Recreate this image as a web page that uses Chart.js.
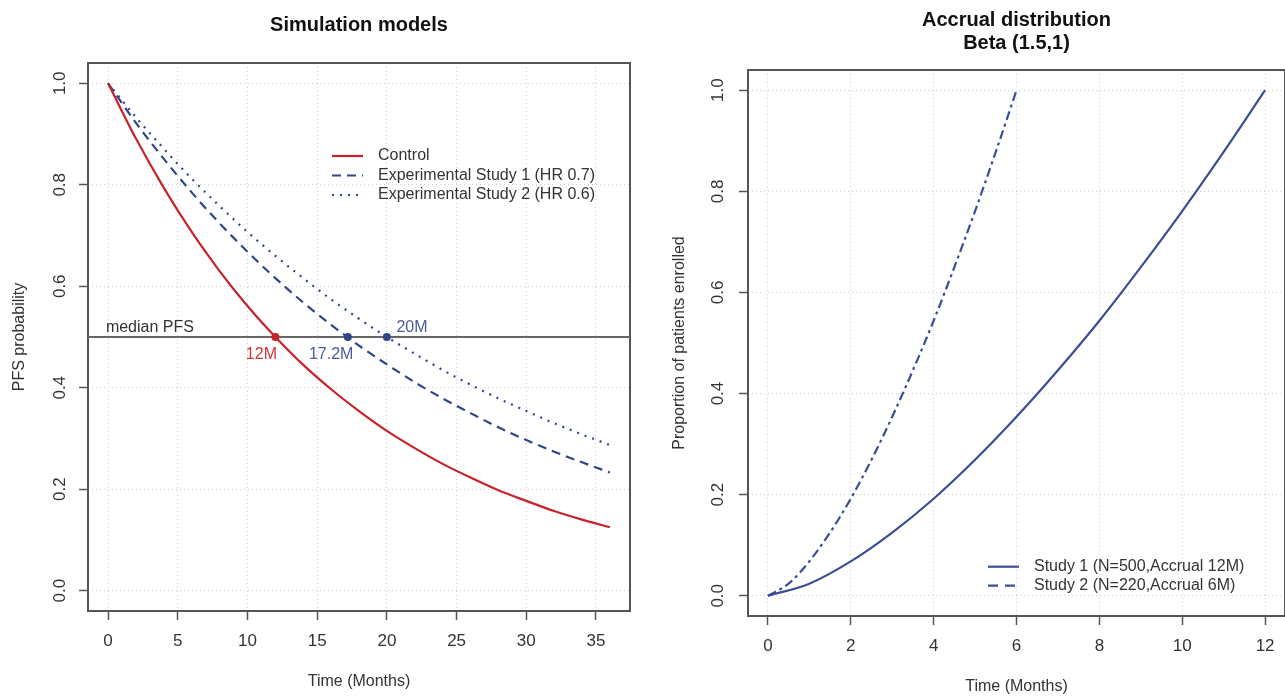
<!DOCTYPE html>
<html>
<head>
<meta charset="utf-8">
<script src="https://cdn.jsdelivr.net/npm/chart.js@4.4.1/dist/chart.umd.min.js"></script>
<style>
html, body { margin: 0; padding: 0; background: #fff; overflow: hidden; width: 1285px; height: 696px; }
#pfsChart { position: absolute; left: 0; top: 0; }
#accrualChart { position: absolute; left: 640px; top: 0; }
</style>
</head>
<body>
<canvas id="pfsChart" width="640" height="696"></canvas>
<canvas id="accrualChart" width="660" height="696"></canvas>
<script>
// left panel: PFS curves, read every 2 months
const pfsMonths = [0, 2, 4, 6, 8, 10, 12, 14, 16, 18, 20, 22, 24, 26, 28, 30, 32, 34, 36];
const controlPFS = [1.00, 0.891, 0.794, 0.707, 0.630, 0.561, 0.500, 0.445, 0.397, 0.354, 0.315, 0.281, 0.250, 0.223, 0.198, 0.177, 0.157, 0.140, 0.125];
const study1PFS = [1.00, 0.922, 0.851, 0.785, 0.724, 0.668, 0.616, 0.568, 0.524, 0.483, 0.446, 0.411, 0.379, 0.350, 0.322, 0.297, 0.274, 0.253, 0.233];
const study2PFS = [1.00, 0.933, 0.871, 0.812, 0.758, 0.707, 0.660, 0.616, 0.574, 0.536, 0.500, 0.467, 0.435, 0.406, 0.379, 0.354, 0.330, 0.308, 0.287];
const medianMonths = [12, 17.2, 20];
const medianProb = [0.5, 0.5, 0.5];
const medianLevel = 0.5;
const pfsXTicks = [0, 5, 10, 15, 20, 25, 30, 35];
const probTicks = [0, 0.2, 0.4, 0.6, 0.8, 1.0];
const pfsLegend = ['Control', 'Experimental Study 1 (HR 0.7)', 'Experimental Study 2 (HR 0.6)'];
const pfsNotes = ['median PFS', '12M', '17.2M', '20M'];
const pfsNoteMonths = [3, 11, 16, 21.8];
const pfsNoteAbove = [true, false, false, true];

// right panel: cumulative accrual
const study1Months = [0, 1, 2, 3, 4, 5, 6, 7, 8, 9, 10, 11, 12];
const study1Enrolled = [0, 0.024, 0.068, 0.125, 0.192, 0.269, 0.354, 0.446, 0.544, 0.650, 0.761, 0.878, 1.0];
const study2Months = [0, 0.5, 1, 1.5, 2, 2.5, 3, 3.5, 4, 4.5, 5, 5.5, 6];
const study2Enrolled = [0, 0.024, 0.068, 0.125, 0.192, 0.269, 0.354, 0.446, 0.544, 0.650, 0.761, 0.878, 1.0];
const accrualXTicks = [0, 2, 4, 6, 8, 10, 12];
const accrualLegend = ['Study 1 (N=500,Accrual 12M)', 'Study 2 (N=220,Accrual 6M)'];

const FONT = "'Liberation Sans', Arial, Helvetica, sans-serif";
const RED = '#C8222A';
const NAVY = '#2F4689';
const BLUE = '#3A4F93';
const INK = '#333';

Chart.defaults.font.family = FONT;
Chart.defaults.font.size = 16;
Chart.defaults.color = INK;

const toPts = (xs, ys) => xs.map((x, i) => ({ x: x, y: ys[i] }));

function gridStyle() {
	return { color: '#cfcfcf', lineWidth: 1, tickColor: '#555', tickWidth: 1.5, tickLength: 9, tickBorderDash: [] };
}

function xScale(min, max, ticks, height, titlePad) {
	return {
		type: 'linear', min: min, max: max,
		afterBuildTicks: s => { s.ticks = ticks.map(v => ({ value: v })); },
		afterFit: s => { s.height = height; },
		grid: gridStyle(),
		border: { display: false, dash: [1, 3] },
		ticks: { padding: 11.4, maxRotation: 0, autoSkip: false, color: INK, font: { size: 17 }, callback: v => String(v) },
		title: { display: true, text: 'Time (Months)', color: INK, padding: { top: 0, bottom: titlePad } }
	};
}

function yScale(text, width, tickPad, titlePad) {
	return {
		type: 'linear', min: -0.04, max: 1.04,
		afterBuildTicks: s => { s.ticks = probTicks.map(v => ({ value: v })); },
		afterFit: s => { s.width = width; },
		grid: gridStyle(),
		border: { display: false, dash: [1, 3] },
		ticks: { padding: tickPad, minRotation: 90, maxRotation: 90, crossAlign: 'center', color: INK, font: { size: 17 }, callback: v => v.toFixed(1) },
		title: { display: true, text: text, color: INK, padding: { top: titlePad, bottom: 0 } }
	};
}

// R style box round the plot region
const boxPlugin = {
	id: 'rBox',
	beforeDatasetsDraw(chart) {
		const { ctx, chartArea: a } = chart;
		ctx.save();
		ctx.strokeStyle = '#555';
		ctx.lineWidth = 2;
		ctx.setLineDash([]);
		ctx.strokeRect(a.left, a.top, a.right - a.left, a.bottom - a.top);
		ctx.restore();
	}
};

function legendPlugin(id, labels, colors, dashes, dx, dy, rowH) {
	return {
		id: id,
		afterDraw(chart) {
			const { ctx, chartArea } = chart;
			const x0 = chartArea.left + dx;
			const y0 = chartArea.top + dy;
			ctx.save();
			ctx.font = '16px ' + FONT;
			ctx.textAlign = 'left';
			ctx.textBaseline = 'middle';
			labels.forEach((lab, i) => {
				const yy = y0 + i * rowH;
				ctx.strokeStyle = colors[i];
				ctx.lineWidth = 2.2;
				ctx.setLineDash(dashes[i]);
				ctx.beginPath();
				ctx.moveTo(x0, yy);
				ctx.lineTo(x0 + 31, yy);
				ctx.stroke();
				ctx.fillStyle = INK;
				ctx.fillText(lab, x0 + 46, yy);
			});
			ctx.restore();
		}
	};
}

const notesPlugin = {
	id: 'pfsNotes',
	afterDatasetsDraw(chart) {
		const { ctx, scales } = chart;
		const noteColors = [INK, '#D0343A', '#4A5C9C', '#4A5C9C'];
		ctx.save();
		ctx.font = '16px ' + FONT;
		ctx.textAlign = 'center';
		ctx.textBaseline = 'middle';
		pfsNotes.forEach((txt, i) => {
			const px = scales.x.getPixelForValue(pfsNoteMonths[i]);
			const py = scales.y.getPixelForValue(medianLevel) + (pfsNoteAbove[i] ? -9 : 18);
			ctx.fillStyle = noteColors[i];
			ctx.fillText(txt, px, py);
		});
		ctx.restore();
	}
};

const xMinL = -1.44, xMaxL = 37.44;

new Chart(document.getElementById('pfsChart'), {
	type: 'line',
	data: {
		datasets: [
			{
				data: toPts(medianMonths, medianProb), showLine: false,
				pointRadius: 4, pointBorderWidth: 0, pointBackgroundColor: [RED, NAVY, NAVY], order: 0
			},
			{
				data: toPts(pfsMonths, controlPFS), borderColor: RED, borderWidth: 2.2,
				pointRadius: 0, cubicInterpolationMode: 'monotone', order: 1
			},
			{
				data: toPts(pfsMonths, study1PFS), borderColor: NAVY, borderWidth: 2.2, borderDash: [9, 6],
				pointRadius: 0, cubicInterpolationMode: 'monotone', order: 1
			},
			{
				data: toPts(pfsMonths, study2PFS), borderColor: NAVY, borderWidth: 2.2, borderDash: [2, 6],
				pointRadius: 0, cubicInterpolationMode: 'monotone', order: 1
			},
			{
				data: toPts([xMinL, xMaxL], [medianLevel, medianLevel]), borderColor: '#666', borderWidth: 2,
				pointRadius: 0, order: 3
			}
		]
	},
	options: {
		responsive: false,
		animation: false,
		events: [],
		layout: { padding: { left: 0, right: 10, top: 0, bottom: 0 } },
		scales: {
			x: xScale(xMinL, xMaxL, pfsXTicks, 85, 4.4),
			y: yScale('PFS probability', 88, 6.7, 10.4)
		},
		plugins: {
			legend: { display: false },
			tooltip: { enabled: false },
			title: {
				display: true, fullSize: false, text: 'Simulation models', color: '#111',
				font: { size: 20, weight: 'bold', lineHeight: 1.17 }, padding: { top: 13.3, bottom: 26.3 }
			}
		}
	},
	plugins: [boxPlugin, notesPlugin,
		legendPlugin('pfsLegend', pfsLegend, [RED, NAVY, NAVY], [[], [9, 6], [2, 6]], 244, 93, 19.5)]
});

new Chart(document.getElementById('accrualChart'), {
	type: 'line',
	data: {
		datasets: [
			{
				data: toPts(study1Months, study1Enrolled), borderColor: BLUE, borderWidth: 2.2,
				pointRadius: 0, cubicInterpolationMode: 'monotone'
			},
			{
				data: toPts(study2Months, study2Enrolled), borderColor: BLUE, borderWidth: 2.2, borderDash: [9, 4, 3, 4],
				pointRadius: 0, cubicInterpolationMode: 'monotone'
			}
		]
	},
	options: {
		responsive: false,
		animation: false,
		events: [],
		layout: { padding: { left: 0, right: 15, top: 0, bottom: 0 } },
		scales: {
			x: xScale(-0.48, 12.48, accrualXTicks, 80, 0),
			y: yScale('Proportion of patients enrolled', 108, 9.2, 29.9)
		},
		plugins: {
			legend: { display: false },
			tooltip: { enabled: false },
			title: {
				display: true, fullSize: false, text: ['Accrual distribution', 'Beta (1.5,1)'], color: '#111',
				font: { size: 20, weight: 'bold', lineHeight: 1.17 }, padding: { top: 8.3, bottom: 14.9 }
			}
		}
	},
	plugins: [boxPlugin,
		legendPlugin('accrualLegend', accrualLegend, [BLUE, BLUE], [[], [10, 7]], 240, 496.7, 19)]
});
</script>
</body>
</html>
